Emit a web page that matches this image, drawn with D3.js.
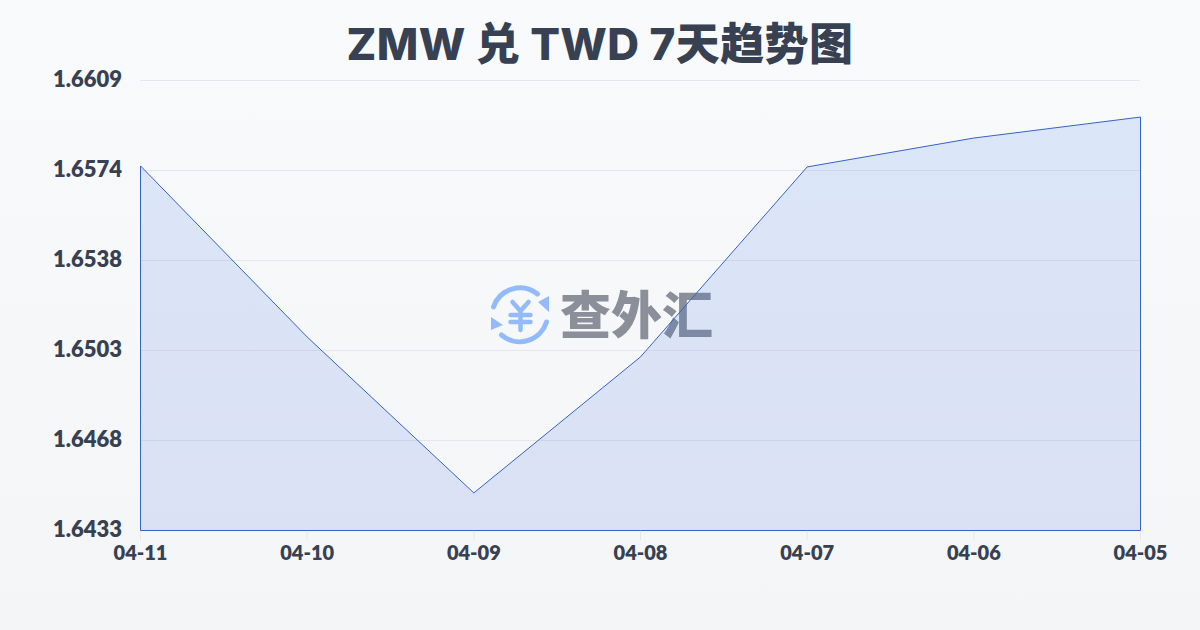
<!DOCTYPE html>
<html><head><meta charset="utf-8">
<script src="https://cdn.jsdelivr.net/npm/d3@7/dist/d3.min.js"></script>
<style>
html,body{margin:0;padding:0;width:1200px;height:630px;overflow:hidden}
svg{display:block}
text{font-family:Lato,"Noto Sans",sans-serif}
text.title{font-family:Inter,"Noto Sans CJK SC",sans-serif;letter-spacing:.4px}
text.brand{font-family:"Noto Sans CJK SC",sans-serif}
</style></head><body><svg id="c" width="1200" height="630"></svg>
<script>
const titleText = "ZMW 兑 TWD 7天趋势图";
const dates = ["04-11","04-10","04-09","04-08","04-07","04-06","04-05"];
const rates = [1.65754,1.65085,1.64475,1.65007,1.6575,1.65863,1.65945];
const yTicks = [1.6433,1.64682,1.65034,1.65386,1.65738,1.6609];
const yLabels = ["1.6433","1.6468","1.6503","1.6538","1.6574","1.6609"];
const brand = "查外汇";

const svg = d3.select("#c");
const defs = svg.append("defs");
const bg = defs.append("linearGradient").attr("id","bg").attr("x1",0).attr("y1",0).attr("x2",0).attr("y2",1);
bg.append("stop").attr("offset",0).attr("stop-color","#f9fafc");
bg.append("stop").attr("offset",1).attr("stop-color","#f3f5f7");
const af = defs.append("linearGradient").attr("id","af").attr("gradientUnits","userSpaceOnUse").attr("x1",0).attr("y1",117).attr("x2",0).attr("y2",530);
af.append("stop").attr("offset",0).attr("stop-color","#2971de").attr("stop-opacity",.14);
af.append("stop").attr("offset",1).attr("stop-color","#3a60db").attr("stop-opacity",.14);
svg.append("rect").attr("width",1200).attr("height",630).attr("fill","url(#bg)");

const x = d3.scalePoint().domain(dates).range([140.5,1140.5]);
const y = d3.scaleLinear().domain([1.6433,1.6609]).range([530,80]);
const ink = "#374151";

svg.append("g").selectAll("line").data(yTicks).join("line")
  .attr("x1",140).attr("x2",1140).attr("y1",d=>Math.round(y(d))+.5).attr("y2",d=>Math.round(y(d))+.5)
  .attr("stroke","#e5e7eb").attr("stroke-width",1);
svg.append("g").selectAll("line").data(dates).join("line")
  .attr("x1",d=>x(d)).attr("x2",d=>x(d)).attr("y1",530).attr("y2",540)
  .attr("stroke","#e5e7eb").attr("stroke-width",1);

// watermark
const logo = svg.append("g");
const ic = logo.append("g").attr("transform","translate(520.5,315)").attr("fill","none").attr("stroke","#93bbfb").attr("stroke-linecap","round");
ic.append("path").attr("stroke-width",5).attr("d","M-27,-8 A28,28 0 0 1 17,-21");
ic.append("path").attr("stroke-width",5).attr("d","M26,7 A28,28 0 0 1 -19,20");
ic.append("path").attr("fill","#93bbfb").attr("stroke","none").attr("d","M17.5,-13 L28.5,-19 L28.5,-3 Z");
ic.append("path").attr("fill","#93bbfb").attr("stroke","none").attr("d","M-29.5,2 L-29.5,15 L-17.5,10 Z");
ic.append("path").attr("stroke-width",4.5).attr("d","M-8,-13 L0,-4 L8,-13 M0,-4 V15 M-10,0 H10 M-10,7 H10");
logo.append("text").attr("class","brand").attr("x",560).attr("y",334).attr("font-size",51).attr("font-weight",900).attr("fill","#8a8f99").text(brand);

const area = d3.area().x((d,i)=>x(dates[i])).y0(530.5).y1(d=>y(d));
svg.append("path").datum(rates).attr("d",area).attr("fill","url(#af)");
svg.append("path").datum(rates).attr("d",area).attr("fill","none").attr("stroke","#3563c4").attr("stroke-width",1);

svg.append("text").attr("class","title").attr("x",600).attr("y",60).attr("text-anchor","middle")
  .attr("font-size",44).attr("font-weight",800).attr("fill",ink).text(titleText);
svg.append("g").selectAll("text").data(yTicks).join("text")
  .attr("x",122).attr("y",d=>y(d)+7).attr("text-anchor","end")
  .attr("font-size",22).attr("font-weight",800).attr("fill",ink).text((d,i)=>yLabels[i]);
svg.append("g").selectAll("text").data(dates).join("text")
  .attr("x",d=>x(d)).attr("y",560).attr("text-anchor","middle")
  .attr("font-size",20).attr("font-weight",800).attr("fill",ink).text(d=>d);
</script></body></html>
